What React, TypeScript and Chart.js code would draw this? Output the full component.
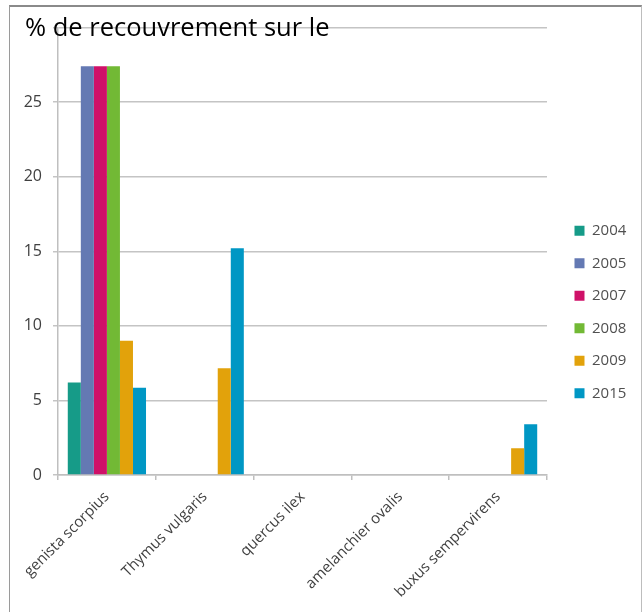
import React, { useEffect, useRef } from "react";
import { Chart, registerables } from "chart.js";

Chart.register(...registerables);

const titleText = "% de recouvrement sur le";
const categories = ["genista scorpius", "Thymus vulgaris", "quercus ilex", "amelanchier ovalis", "buxus sempervirens"];
const years = ["2004", "2005", "2007", "2008", "2009", "2015"];
const v2004 = [6.2, 0, 0, 0, 0];
const v2005 = [27.4, 0, 0, 0, 0];
const v2007 = [27.4, 0, 0, 0, 0];
const v2008 = [27.4, 0, 0, 0, 0];
const v2009 = [9.0, 7.15, 0, 0, 1.8];
const v2015 = [5.85, 15.2, 0, 0, 3.4];
const seriesValues = [v2004, v2005, v2007, v2008, v2009, v2015];
const colors = ["#169b88", "#6479b3", "#cf1168", "#72b935", "#e2a20b", "#0097c4"];
const yMax = 30;
const yStep = 5;

const FONT = "'Open Sans', 'DejaVu Sans', sans-serif";

const overlayTitle = {
  id: "overlayTitle",
  afterDraw(chart: any) {
    const ctx = chart.ctx;
    ctx.save();
    ctx.font = `25.5px ${FONT}`;
    ctx.fillStyle = "#000";
    ctx.textBaseline = "middle";
    ctx.textAlign = "left";
    ctx.fillText(titleText, 15, 22);
    ctx.restore();
  },
};

const legendShift = {
  id: "legendShift",
  afterLayout(chart: any) {
    const lg = chart.legend;
    if (lg) {
      lg.left += 10;
      lg.right += 10;
    }
  },
};

export default function App() {
  const ref = useRef<HTMLCanvasElement>(null);
  useEffect(() => {
    if (!ref.current) return;
    const chart = new Chart(ref.current, {
      type: "bar",
      data: {
        labels: categories,
        datasets: years.map((y, i) => ({
          label: y,
          data: seriesValues[i],
          backgroundColor: colors[i],
          borderWidth: 0,
          barPercentage: 1,
          categoryPercentage: 0.8,
        })),
      },
      options: {
        animation: false,
        responsive: true,
        maintainAspectRatio: false,
        layout: { padding: { left: 10, right: 14.7, top: 10, bottom: 5 } },
        plugins: {
          title: { display: false },
          tooltip: { enabled: false },
          legend: {
            position: "right",
            labels: {
              boxWidth: 10,
              boxHeight: 10,
              padding: 17.5,
              color: "#505050",
              font: { family: FONT, size: 15 },
            },
          },
        },
        scales: {
          x: {
            grid: {
              display: true,
              drawOnChartArea: false,
              tickLength: 5,
              color: "#bfbfbf",
              lineWidth: 1.5,
              offset: true,
            },
            border: { display: true, color: "#bfbfbf", width: 1.5 },
            ticks: {
              minRotation: 45,
              maxRotation: 45,
              color: "#404040",
              font: { family: FONT, size: 15 },
              padding: 8,
            },
            afterFit(s: any) {
              s.height = 132;
            },
          },
          y: {
            min: 0,
            max: yMax,
            grid: { color: "#c4c4c4", lineWidth: 1.5, tickLength: 5 },
            border: { display: true, color: "#bfbfbf", width: 1.5 },
            ticks: {
              stepSize: yStep,
              padding: 11,
              color: "#404040",
              font: { family: FONT, size: 16 },
              callback: (v: any) => (v === yMax ? "" : String(v)),
            },
            afterFit(s: any) {
              s.width = 38;
            },
          },
        },
      },
      plugins: [overlayTitle, legendShift],
    });
    return () => chart.destroy();
  }, []);

  return (
    <div
      style={{
        position: "fixed",
        left: 9,
        top: 5,
        width: 631,
        height: 605,
        borderTop: "2px solid #8a8a8a",
        borderLeft: "1px solid #9a9a9a",
        borderRight: "1px solid #bdbdbd",
        background: "#fff",
      }}
    >
      <canvas ref={ref} />
    </div>
  );
}
